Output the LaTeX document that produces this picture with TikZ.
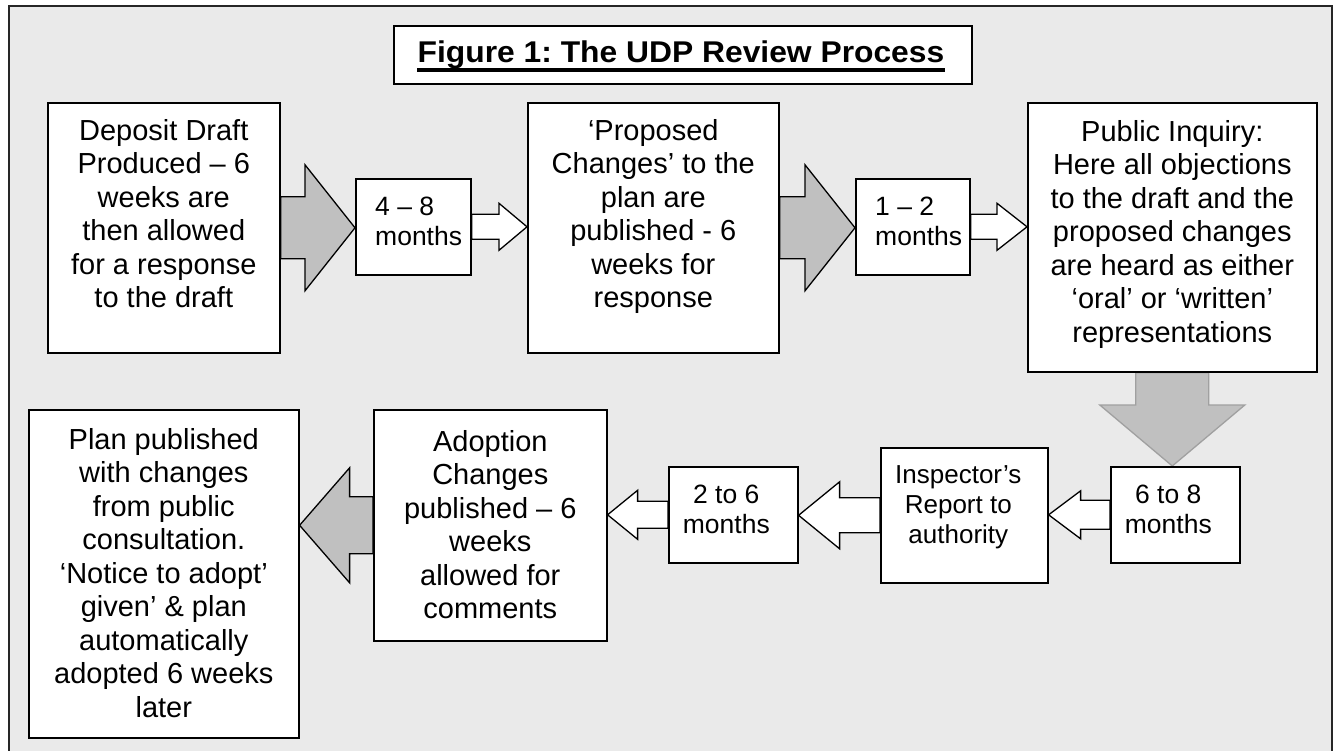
\documentclass[tikz,border=0pt]{standalone}
\usepackage{fontspec}
\setmainfont{Liberation Sans}
\usetikzlibrary{calc}
\frenchspacing
\definecolor{bggray}{HTML}{EAEAEA}
\definecolor{arrgray}{HTML}{C0C0C0}
\definecolor{downedge}{HTML}{A0A0A0}
\pgfdeclarelayer{bg}\pgfdeclarelayer{arr}\pgfsetlayers{bg,arr,main}
\newcommand\bodyfont{\fontsize{29pt}{33.5pt}\selectfont}
\newcommand\smallbodyfont{\fontsize{26.5pt}{30pt}\selectfont}
\newcommand\inspfont{\fontsize{26pt}{30pt}\selectfont}
\newcommand\titlefont{\fontsize{30pt}{34pt}\selectfont\bfseries}
% right-pointing block arrow: style, from, to, shaft half, head half, head length
\newcommand\arrR[6]{\draw[#1] let \p1=(#2.east), \p2=(#3.west) in
  (\x1,\y1+#4) -- (\x2-#6,\y1+#4) -- (\x2-#6,\y1+#5) -- (\x2,\y1) --
  (\x2-#6,\y1-#5) -- (\x2-#6,\y1-#4) -- (\x1,\y1-#4) -- cycle;}
% left-pointing block arrow
\newcommand\arrL[6]{\draw[#1] let \p1=(#2.west), \p2=(#3.east) in
  (\x1,\y1+#4) -- (\x2+#6,\y1+#4) -- (\x2+#6,\y1+#5) -- (\x2,\y1) --
  (\x2+#6,\y1-#5) -- (\x2+#6,\y1-#4) -- (\x1,\y1-#4) -- cycle;}
\begin{document}
\begin{tikzpicture}[x=1pt,y=-1pt,
  box/.style={draw=black, fill=white, line width=1.6pt, inner sep=0pt, anchor=north west},
  txt/.style={align=center, inner sep=0pt, font=\bodyfont, anchor=north},
  stxt/.style={align=center, inner sep=0pt, font=\smallbodyfont, anchor=north},
  ltxt/.style={align=left, inner sep=0pt, font=\smallbodyfont, anchor=north west},
  bigarr/.style={draw=black, fill=arrgray, line width=1.3pt, line join=miter},
  smallarr/.style={draw=black, fill=white, line width=1.3pt, line join=miter},
  downarr/.style={draw=downedge, fill=arrgray, line width=1.3pt, line join=miter}]
\useasboundingbox (0,0) rectangle (1339,751);
\begin{pgfonlayer}{bg}
  \fill[white] (0,0) rectangle (1339,751);
  \begin{scope}
    \clip (0,0) rectangle (1339,751);
    \draw[fill=bggray, line width=2.5pt, draw=black!85] (9,6) rectangle (1332,765);
  \end{scope}
\end{pgfonlayer}

% title
\node[box, minimum width=578pt, minimum height=58pt] (T) at (393,25) {};
\node[inner sep=0pt, anchor=base, font=\titlefont] (Tt) at (681,63) {\scalebox{1.06}[1]{Figure 1: The UDP Review Process}};
\draw[line width=4pt] ([yshift=-7pt]Tt.base west) -- ([yshift=-7pt]Tt.base east);

% boxes
\node[box, minimum width=232pt, minimum height=250pt] (A) at (47,102) {};
\node[box, minimum width=115pt, minimum height=96pt] (M1) at (355,178) {};
\node[box, minimum width=251pt, minimum height=250pt] (B) at (527,102) {};
\node[box, minimum width=114pt, minimum height=96pt] (M2) at (855,178) {};
\node[box, minimum width=289pt, minimum height=269pt] (C) at (1027,102) {};
\node[box, minimum width=129pt, minimum height=96pt] (M3) at (1110,466) {};
\node[box, minimum width=167pt, minimum height=135pt] (I) at (880,447) {};
\node[box, minimum width=129pt, minimum height=96pt] (M4) at (668,466) {};
\node[box, minimum width=233pt, minimum height=231pt] (AD) at (373,409) {};
\node[box, minimum width=270pt, minimum height=328pt] (P) at (28,409) {};

% texts
\node[txt] (At) at ([yshift=-17pt]A.north) {Deposit Draft\\Produced – 6\\weeks are\\then allowed\\for a response\\to the draft};
\node[ltxt] (M1t) at ([xshift=20pt,yshift=-19pt]M1.north west) {4 – 8\\months};
\node[txt] (Bt) at ([yshift=-17pt]B.north) {‘Proposed\\Changes’ to the\\plan are\\published - 6\\weeks for\\response};
\node[ltxt] (M2t) at ([xshift=20pt,yshift=-19pt]M2.north west) {1 – 2\\months};
\node[txt] (Ct) at ([yshift=-18pt]C.north) {Public Inquiry:\\Here all objections\\to the draft and the\\proposed changes\\are heard as either\\‘oral’ or ‘written’\\representations};
\node[stxt] (M3t) at ([xshift=-7pt,yshift=-19pt]M3.north) {6 to 8\\months};
\node[stxt, font=\inspfont] (It) at ([xshift=-6pt,yshift=-18pt]I.north) {Inspector’s\\Report to\\authority};
\node[stxt] (M4t) at ([xshift=-7pt,yshift=-19pt]M4.north) {2 to 6\\months};
\node[txt] (ADt) at ([yshift=-21pt]AD.north) {Adoption\\Changes\\published – 6\\weeks\\allowed for\\comments};
\node[txt] (Pt) at ([yshift=-19pt]P.north) {Plan published\\with changes\\from public\\consultation.\\‘Notice to adopt’\\given’ \& plan\\automatically\\adopted 6 weeks\\later};

% arrows
\begin{pgfonlayer}{arr}
  \arrR{bigarr}{A}{M1}{31}{63}{50}
  \arrR{smallarr}{M1}{B}{12.5}{23.5}{28}
  \arrR{bigarr}{B}{M2}{31}{63}{50}
  \arrR{smallarr}{M2}{C}{12.5}{23.5}{30}
  \draw[downarr] let \p1=(C.south), \p2=(M3.north) in
    (\x1-36.5,\y1) -- (\x1-36.5,\y2+61) -- (\x1-72.5,\y2+61) -- (\x1,\y2) --
    (\x1+72.5,\y2+61) -- (\x1+36.5,\y2+61) -- (\x1+36.5,\y1) -- cycle;
  \arrL{smallarr}{M3}{I}{14.5}{24}{32}
  \arrL{smallarr}{I}{M4}{17.5}{33.5}{41}
  \arrL{smallarr}{M4}{AD}{13.5}{24.5}{30}
  \arrL{bigarr}{AD}{P}{28.5}{57.5}{50}
\end{pgfonlayer}
\end{tikzpicture}
\end{document}
